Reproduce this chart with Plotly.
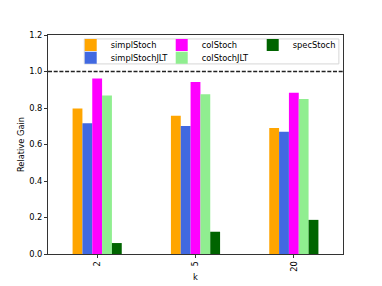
import plotly.graph_objects as go

categories = ["2", "5", "20"]
series_names = ["simplStoch", "simplStochJLT", "colStoch", "colStochJLT", "specStoch"]
simplStoch = [0.797, 0.757, 0.690]
simplStochJLT = [0.717, 0.702, 0.670]
colStoch = [0.962, 0.942, 0.884]
colStochJLT = [0.869, 0.875, 0.849]
specStoch = [0.060, 0.122, 0.187]
colors = ["#FFA500", "#4169E1", "#FF00FF", "#90EE90", "#006400"]
# legend layout like matplotlib ncol=3 (column-major): row 1 / row 2
legend_ids = ["legend", "legend2", "legend", "legend2", "legend"]
legend_ranks = [1, 1, 2, 2, 3]
y_ticks = [0.0, 0.2, 0.4, 0.6, 0.8, 1.0, 1.2]

values = [simplStoch, simplStochJLT, colStoch, colStochJLT, specStoch]
FONT = "DejaVu Sans"
FS = 8.3

fig = go.Figure()
for name, vals, col, lg, rk in zip(series_names, values, colors, legend_ids, legend_ranks):
    fig.add_trace(go.Bar(
        x=list(range(len(categories))), y=vals, name=name,
        marker=dict(color=col, line=dict(width=0)),
        legend=lg, legendrank=rk,
    ))

# reference line at 1.0
fig.add_shape(type="line", xref="paper", x0=0, x1=1, yref="y", y0=1.0, y1=1.0,
              line=dict(color="#222222", width=1.3, dash="4px,1.7px"), layer="above")
# legend frame (matplotlib style, semi-transparent white box)
fig.add_shape(type="rect", xref="paper", yref="paper", x0=0.123, x1=0.986, y0=0.868, y1=0.982,
              line=dict(color="#d6d6d6", width=1), fillcolor="rgba(255,255,255,0.8)", layer="above")

leg_common = dict(
    orientation="h", xanchor="left", yanchor="top",
    bgcolor="rgba(0,0,0,0)", borderwidth=0,
    font=dict(family=FONT, size=FS, color="black"),
    entrywidth=46, itemwidth=30, traceorder="normal",
)

fig.update_layout(
    width=374, height=278,
    margin=dict(l=40, r=39, t=27, b=32, autoexpand=False),
    paper_bgcolor="white", plot_bgcolor="white",
    barmode="group", bargap=0.5, bargroupgap=0,
    font=dict(family=FONT, size=FS, color="black"),
    showlegend=True,
    legend=dict(x=0.077, y=1.0205, **leg_common),
    legend2=dict(x=0.077, y=0.9626, **leg_common),
    xaxis=dict(
        range=[-0.5, 2.5], tickmode="array",
        tickvals=list(range(len(categories))), ticktext=categories,
        tickangle=-90, ticks="outside", ticklen=3, tickcolor="#333333",
        showline=True, linecolor="#333333", linewidth=1, mirror=True,
        showgrid=False, zeroline=False, automargin=False,
        title=dict(text="k", font=dict(family=FONT, size=FS, color="black"), standoff=3),
        tickfont=dict(family=FONT, size=FS, color="black"),
    ),
    yaxis=dict(
        range=[0, 1.2], tickmode="array", tickvals=y_ticks,
        ticktext=[f"{v:.1f}" for v in y_ticks],
        ticks="outside", ticklen=3, tickcolor="#333333",
        showline=True, linecolor="#333333", linewidth=1, mirror=True,
        showgrid=False, zeroline=False, automargin=False,
        title=dict(text="Relative Gain", font=dict(family=FONT, size=FS, color="black"), standoff=3),
        tickfont=dict(family=FONT, size=FS, color="black"),
    ),
)

fig.write_html("out.html")
